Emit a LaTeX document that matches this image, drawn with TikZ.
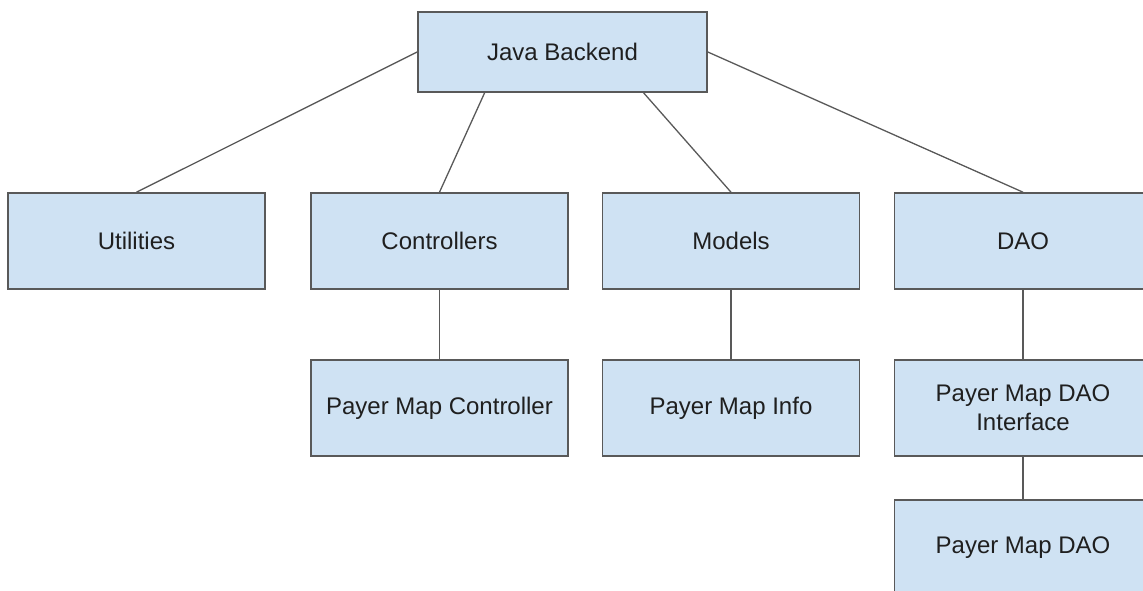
\documentclass[tikz,border=0pt]{standalone}
\usepackage{fontspec}
\setmainfont{Liberation Sans}
\usetikzlibrary{calc}
\definecolor{boxfill}{HTML}{CFE2F3}
\definecolor{boxline}{HTML}{595959}
\definecolor{txt}{HTML}{1F1F1F}
\begin{document}
\begin{tikzpicture}[x=1pt,y=-1pt,
  box/.style={draw=boxline,fill=boxfill,line width=1.6pt,minimum width=257pt,minimum height=96pt,inner sep=0pt,
    align=center,font=\fontsize{24pt}{29pt}\selectfont,text=txt},
  link/.style={draw=boxline,line width=1.3pt}]
\path[use as bounding box,clip] (0,0) rectangle (1143,591);
\node[box,minimum width=289pt,minimum height=80pt] (JB) at (562.5,52) {Java Backend};
\node[box] (U) at (136.5,241) {Utilities};
\node[box] (C) at (439.5,241) {Controllers};
\node[box] (M) at (731,241) {Models};
\node[box] (D) at (1023,241) {DAO};
\node[box] (PMC) at (439.5,408) {Payer Map Controller};
\node[box] (PMI) at (731,408) {Payer Map Info};
\node[box] (PDI) at (1023,408) {Payer Map DAO\\Interface};
\node[box] (PD) at (1023,548) {Payer Map DAO};
\draw[link] (JB.west) -- (U.north);
\draw[link] ($(JB.south west)!0.232!(JB.south east)$) -- (C.north);
\draw[link] ($(JB.south west)!0.779!(JB.south east)$) -- (M.north);
\draw[link] (JB.east) -- (D.north);
\draw[link] (C.south) -- (PMC.north);
\draw[link] (M.south) -- (PMI.north);
\draw[link] (D.south) -- (PDI.north);
\draw[link] (PDI.south) -- (PD.north);
\end{tikzpicture}
\end{document}
